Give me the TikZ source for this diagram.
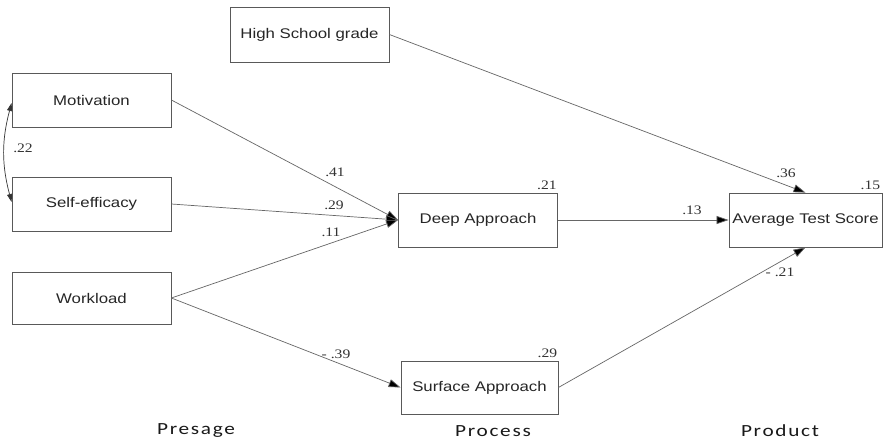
\documentclass[tikz,border=0pt]{standalone}
\usepackage{fontspec}
\setmainfont{Liberation Sans}
\newfontfamily\boxfont[FakeStretch=1.2]{Liberation Sans}
\newfontfamily\numfont[FakeStretch=1.2]{Liberation Serif}
\newfontfamily\stagefont[FakeStretch=1.25,LetterSpace=10]{Carlito}
\usetikzlibrary{arrows.meta}
\begin{document}
\begin{tikzpicture}[x=1pt,y=-1pt,
  box/.style={draw=black!65, line width=0.8pt, minimum width=159pt, minimum height=54pt,
    inner sep=0pt, font=\boxfont\fontsize{14}{16}\selectfont, text=black!85},
  link/.style={draw=black!60, line width=0.7pt, -{Triangle[length=12pt,width=8pt,fill=black]}},
  num/.style={font=\numfont\fontsize{13}{15}\selectfont, text=black!80, inner sep=0pt},
  stage/.style={font=\stagefont\fontsize{17}{20}\selectfont, text=black!90, inner sep=0pt}]
\useasboundingbox (0,0) rectangle (883,444);
\fill[white] (0,0) rectangle (883,444);

\node[box] (mot) at (91.5,100) {Motivation};
\node[box] (self) at (91.5,204) {Self-efficacy};
\node[box, minimum height=52pt] (work) at (91.5,298) {Workload};
\node[box, minimum height=55pt] (hs) at (309.5,34.5) {High School grade};
\node[box] (deep) at (478,220) {Deep Approach};
\node[box, minimum width=157pt, minimum height=53pt] (surf) at (479.5,387.5) {Surface Approach};
\node[box, minimum width=153pt] (ats) at (805.5,220) {Average Test Score};

\draw[link] (mot.east) -- (deep.west);
\draw[link] (self.east) -- (deep.west);
\draw[link] (work.east) -- (deep.west);
\draw[link] (work.east) -- (surf.west);
\draw[link] (hs.east) -- (ats.north);
\draw[link] (deep.east) -- (ats.west);
\draw[link] (surf.east) -- (ats.south);

\coordinate (cvA) at ([yshift=-3pt]mot.west);
\coordinate (cvB) at ([yshift=2pt]self.west);
\draw[black!80, line width=0.7pt, {Triangle[length=8pt,width=5pt]}-{Triangle[length=8pt,width=5pt]}]
  (cvA) to[out=-105,in=105] (cvB);

\node[num] (l22) at (23,148) {.22};
\node[num] (l41) at (335,172) {.41};
\node[num] (l29) at (334,205) {.29};
\node[num] (l11) at (331,232) {.11};
\node[num] (l39) at (336,354) {- .39};
\node[num, anchor=south east] (r21) at ([shift={(-1pt,3pt)}]deep.north east) {.21};
\node[num, anchor=south east] (r29) at ([shift={(-1pt,3pt)}]surf.north east) {.29};
\node[num] (l13) at (692,210) {.13};
\node[num] (l36) at (786,173) {.36};
\node[num, anchor=south east] (r15) at ([shift={(-2pt,3pt)}]ats.north east) {.15};
\node[num] (lm21) at (780,272) {- .21};

\node[stage] (pre) at (196,431) {Presage};
\node[stage] (pro) at (493,431) {Process};
\node[stage] (prd) at (780,431) {Product};
\end{tikzpicture}
\end{document}
